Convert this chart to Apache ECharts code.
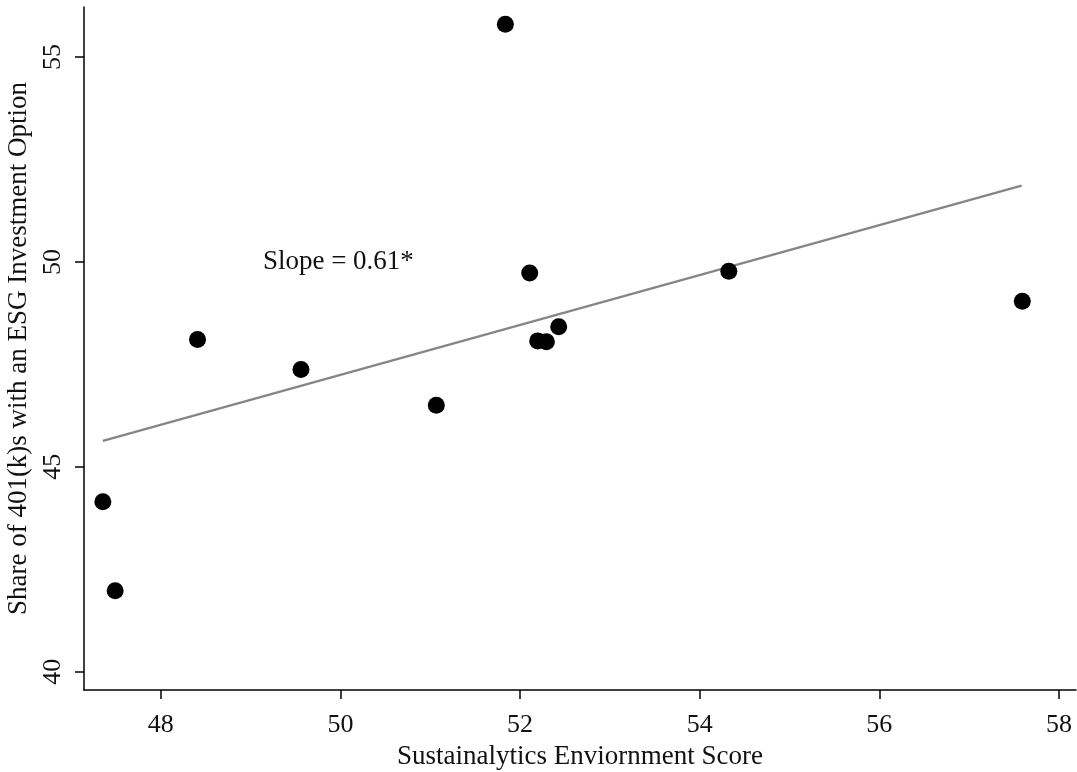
<!DOCTYPE html>
<html>
<head>
<meta charset="utf-8">
<script src="https://cdn.jsdelivr.net/npm/echarts@6/dist/echarts.min.js"></script>
<style>
  html, body { margin: 0; padding: 0; background: #fff; }
  #chart { width: 1077px; height: 772px; }
</style>
</head>
<body>
<div id="chart"></div>
<script>
// Environment score vs. share of 401(k) plans offering an ESG option
const envScore = [47.354, 47.491, 48.408, 49.560, 51.067, 51.836, 52.107, 52.196, 52.293, 52.430, 54.324, 57.592];
const esgShare = [44.146, 41.976, 48.107, 47.376, 46.505, 55.800, 49.730, 48.073, 48.049, 48.415, 49.773, 49.040];

// Fitted line end points
const fitX = [47.354, 57.584];
const fitY = [45.634, 51.860];

// Annotation
const slopeText = 'Slope = 0.61*';
const slopeAt = [49.136, 50.0];

// Tick values
const xTicks = [48, 50, 52, 54, 56, 58];
const yTicks = [40, 45, 50, 55];

const FONT = "'Liberation Serif', 'Times New Roman', serif";
const INK = '#111';

const chart = echarts.init(document.getElementById('chart'), null, { renderer: 'canvas' });

chart.setOption({
  animation: false,
  backgroundColor: '#fff',
  grid: { left: 84, right: 1, top: 7, bottom: 82, containLabel: false, outerBoundsMode: 'none' },
  xAxis: {
    type: 'value',
    min: 47.144,
    max: 58.19,
    name: 'Sustainalytics Enviornment Score',
    nameLocation: 'middle',
    nameGap: 53,
    nameTextStyle: { fontFamily: FONT, fontSize: 27, color: INK },
    axisLine: { show: true, onZero: false, lineStyle: { color: '#000', width: 1.5 } },
    axisTick: { show: true, length: 9, customValues: xTicks, lineStyle: { color: '#000', width: 1.5 } },
    axisLabel: { customValues: xTicks, fontFamily: FONT, fontSize: 26, color: INK, margin: 22 },
    splitLine: { show: false }
  },
  yAxis: {
    type: 'value',
    min: 39.554,
    max: 56.22,
    name: 'Share of 401(k)s with an ESG Investment Option',
    nameLocation: 'middle',
    nameGap: 47,
    nameRotate: 90,
    nameTextStyle: { fontFamily: FONT, fontSize: 27, color: INK },
    axisLine: { show: true, onZero: false, lineStyle: { color: '#000', width: 1.5 } },
    axisTick: { show: true, length: 9, customValues: yTicks, lineStyle: { color: '#000', width: 1.5 } },
    axisLabel: { customValues: yTicks, rotate: 90, fontFamily: FONT, fontSize: 26, color: INK, margin: 18 },
    splitLine: { show: false }
  },
  series: [
    {
      type: 'line',
      data: fitX.map((x, i) => [x, fitY[i]]),
      symbol: 'none',
      lineStyle: { color: '#858585', width: 2.2 },
      z: 2
    },
    {
      type: 'scatter',
      data: envScore.map((x, i) => [x, esgShare[i]]),
      symbol: 'circle',
      symbolSize: 17,
      itemStyle: { color: '#000', opacity: 1 },
      z: 3
    },
    {
      type: 'scatter',
      data: [slopeAt],
      symbolSize: 0,
      silent: true,
      itemStyle: { opacity: 1 },
      label: {
        show: true,
        position: 'right',
        distance: 0,
        formatter: slopeText,
        fontFamily: FONT,
        fontSize: 27,
        color: INK,
        opacity: 1
      }
    }
  ]
});
</script>
</body>
</html>
